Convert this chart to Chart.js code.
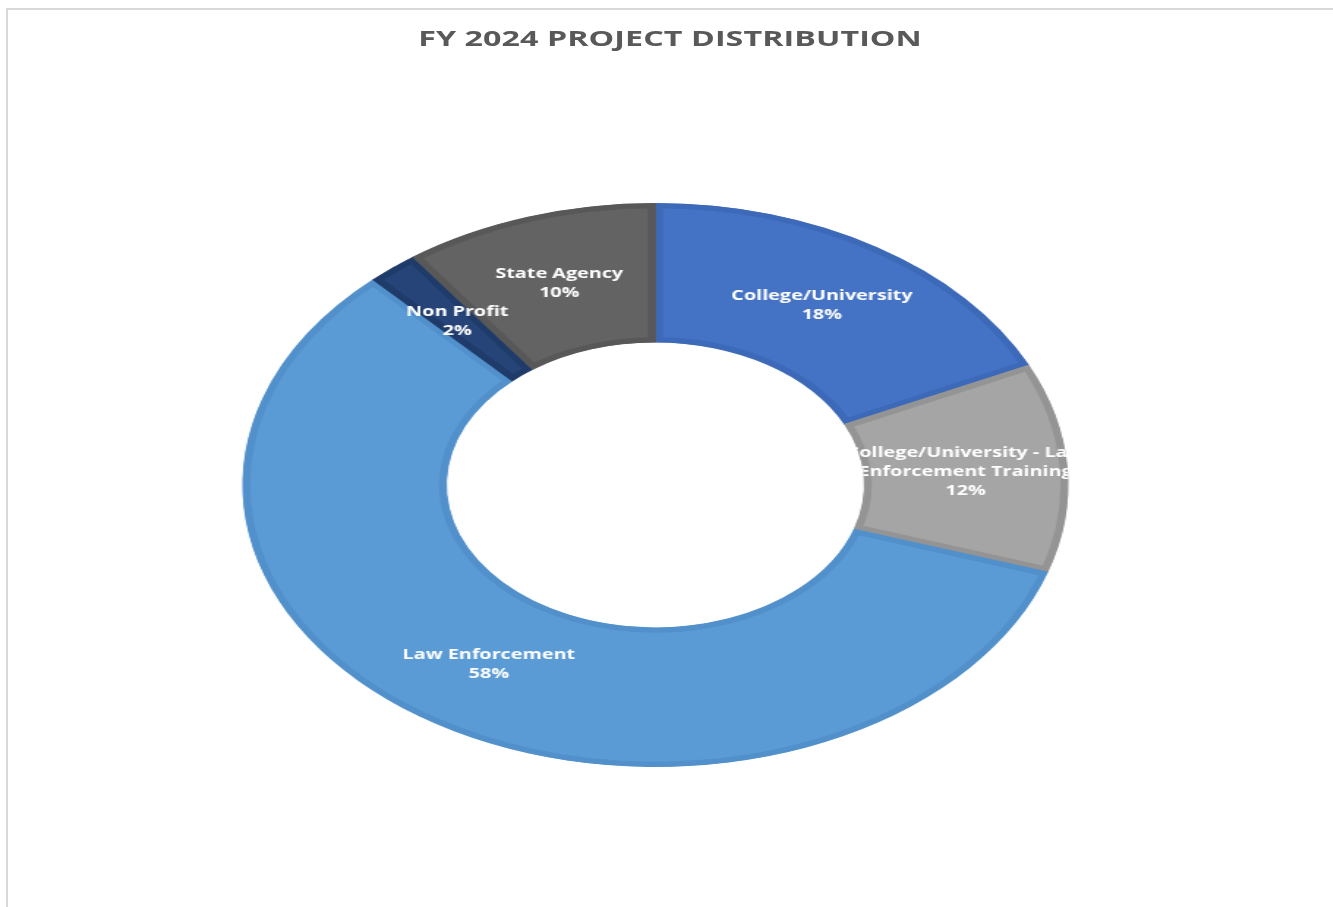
<!DOCTYPE html>
<html>
<head>
<meta charset="utf-8">
<script src="https://cdn.jsdelivr.net/npm/chart.js@4.4.1/dist/chart.umd.min.js"></script>
<style>
  html, body { margin: 0; padding: 0; background: #fff; overflow: hidden; }
  body { width: 1333px; height: 907px; position: relative; }
  #frame {
    position: absolute; left: 6px; top: 8px; right: -10px; bottom: -10px;
    border-left: 2px solid #d9d9d9; border-top: 2px solid #d9d9d9;
  }
  #stretch {
    position: absolute; left: 0; top: 0; width: 910px; height: 907px;
    transform: scaleX(1.4645); transform-origin: 0 0;
  }
  #title {
    position: absolute; left: 0; top: 22px; width: 915px; text-align: center;
    font: bold 22px "Open Sans", sans-serif; color: #595959; letter-spacing: 0.05px;
  }
</style>
</head>
<body>
<div id="frame"></div>
<div id="stretch">
  <div id="title">FY 2024 PROJECT DISTRIBUTION</div>
  <canvas id="projChart" width="910" height="907" style="width:910px;height:907px"></canvas>
</div>
<script>
// data (percent of projects)
const categories = [
    'College/University',
    'College/University - Law Enforcement Training',
    'Law Enforcement',
    'Non Profit',
    'State Agency'
];
const shares = [18, 12, 58, 2, 10];

const fills = ['#4472C4', '#A5A5A5', '#5B9BD5', '#264478', '#636363'];
const edges = ['#3d69b9', '#949494', '#5190cb', '#1f3b6a', '#585858'];

// word wrap like excel does for data labels
function wrapText(ctx, text, maxW) {
    const words = text.split(' ');
    const lines = [];
    let cur = '';
    words.forEach(w => {
        const test = cur ? cur + ' ' + w : w;
        if (cur && ctx.measureText(test).width > maxW) {
            lines.push(cur);
            cur = w;
        } else {
            cur = test;
        }
    });
    if (cur) lines.push(cur);
    return lines;
}

const sliceLabels = {
    id: 'sliceLabels',
    afterDatasetsDraw(chart) {
        const ctx = chart.ctx;
        const meta = chart.getDatasetMeta(0);
        const total = shares.reduce((a, b) => a + b, 0);
        ctx.save();
        ctx.font = 'bold 13.5px "Open Sans", sans-serif';
        ctx.fillStyle = '#ffffff';
        ctx.textAlign = 'center';
        ctx.textBaseline = 'middle';
        meta.data.forEach((arc, i) => {
            const pos = arc.tooltipPosition();
            const lines = wrapText(ctx, categories[i], 165);
            lines.push(Math.round(shares[i] / total * 100) + '%');
            const lh = 19;
            ctx.save();
            ctx.beginPath();
            ctx.arc(arc.x, arc.y, arc.outerRadius, 0, Math.PI * 2);
            ctx.arc(arc.x, arc.y, arc.innerRadius, 0, Math.PI * 2, true);
            ctx.clip();
            lines.forEach((t, k) => {
                ctx.fillText(t, pos.x, pos.y + (k - (lines.length - 1) / 2) * lh);
            });
            ctx.restore();
        });
        ctx.restore();
    }
};

const ctx = document.getElementById('projChart').getContext('2d');
const projChart = new Chart(ctx, {
    type: 'doughnut',
    data: {
        labels: categories,
        datasets: [{
            data: shares,
            backgroundColor: fills,
            borderColor: edges,
            borderWidth: 5,
            borderAlign: 'inner',
            borderJoinStyle: 'miter'
        }]
    },
    options: {
        responsive: false,
        devicePixelRatio: 1,
        animation: false,
        cutout: '50.5%',
        layout: {
            padding: { top: 203, bottom: 140, left: 0, right: 15 }
        },
        plugins: {
            legend: { display: false },
            tooltip: { enabled: false },
            title: { display: false }
        }
    },
    plugins: [sliceLabels]
});
</script>
</body>
</html>
